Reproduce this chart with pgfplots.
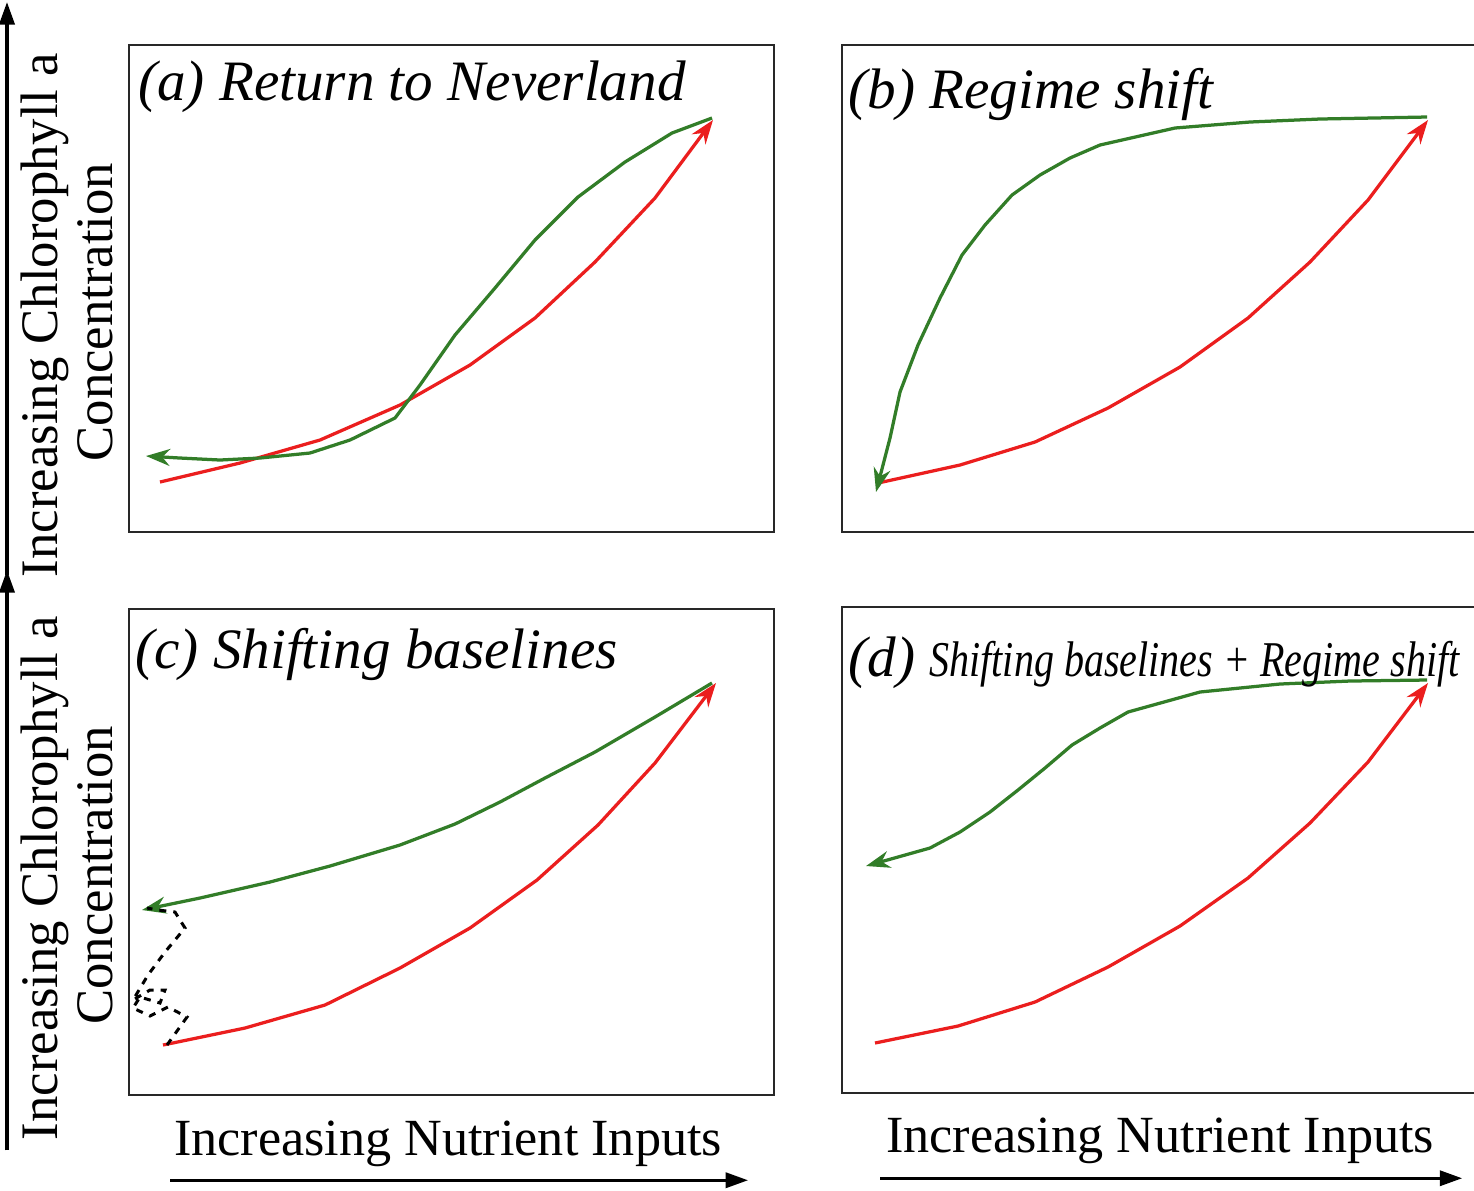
\documentclass[border=0pt]{standalone}
\usepackage{fontspec}
\setmainfont{Liberation Serif}
\usepackage{pgfplots}
\pgfplotsset{compat=1.18}
\usetikzlibrary{arrows.meta}
\definecolor{cred}{RGB}{235,30,30}
\definecolor{cgreen}{RGB}{50,125,40}
\definecolor{cbox}{RGB}{40,40,40}
\pgfplotsset{
  panel/.style={scale only axis, width=12.90cm, anchor=north west,
    y dir=reverse, axis line style={cbox, line width=0.045cm},
    xtick=\empty, ytick=\empty, clip=false},
  redc/.style={cred, line width=0.065cm, sharp plot, no markers,
    -{Stealth[length=0.48cm,width=0.34cm]}},
  greenc/.style={cgreen, line width=0.065cm, sharp plot, no markers,
    -{Stealth[length=0.48cm,width=0.34cm]}},
}
\begin{document}
\begin{tikzpicture}
\clip (0,0) rectangle (29.48cm,-23.8cm);
\useasboundingbox (0,0) rectangle (29.48cm,-23.8cm);
% (a)
\begin{axis}[panel, at={(2.58cm,-0.90cm)}, height=9.74cm,
  xmin=129, xmax=774, ymin=45, ymax=532]
\addplot[redc] coordinates {(160,482) (240,463) (320,440) (400,405) (470,365) (535,318) (595,262) (655,198) (713,120)};
\addplot[greenc] coordinates {(712,118) (672,133) (625,162) (578,197) (535,240) (495,288) (455,335) (420,385) (395,418) (350,440) (310,453) (260,458) (220,460) (180,458) (146,456)};
\end{axis}
% (b)
\begin{axis}[panel, at={(16.84cm,-0.90cm)}, height=9.74cm,
  xmin=842, xmax=1487, ymin=45, ymax=532]
\addplot[redc] coordinates {(878,483) (960,465) (1035,442) (1108,408) (1180,367) (1248,318) (1310,262) (1368,200) (1428,120)};
\addplot[greenc] coordinates {(1427,117) (1320,119) (1250,122) (1175,128) (1100,145) (1070,158) (1040,175) (1012,195) (985,225) (962,255) (940,298) (918,345) (900,392) (890,438) (876,492)};
\end{axis}
% (c)
\begin{axis}[panel, at={(2.58cm,-12.18cm)}, height=9.72cm,
  xmin=129, xmax=774, ymin=609, ymax=1095]
\addplot[redc] coordinates {(163,1045) (245,1028) (325,1005) (400,968) (470,928) (537,880) (598,825) (655,763) (716,683)};
\addplot[greenc] coordinates {(712,683) (655,717) (595,752) (545,778) (500,802) (455,824) (400,845) (330,866) (270,882) (200,898) (142,910)};
\addplot[black, line width=0.06cm, dash pattern=on 0.14cm off 0.14cm, sharp plot, no markers] coordinates {(167,1045) (187,1017) (168,1007) (150,1016) (133,1008) (140,997) (160,1003) (165,990) (150,990) (133,1000) (148,975) (165,952) (185,928) (175,912) (158,910) (147,908)};
\end{axis}
% (d)
\begin{axis}[panel, at={(16.84cm,-12.14cm)}, height=9.72cm,
  xmin=842, xmax=1487, ymin=607, ymax=1093]
\addplot[redc] coordinates {(875,1043) (958,1026) (1035,1002) (1108,967) (1180,926) (1248,878) (1310,823) (1368,762) (1428,683)};
\addplot[greenc] coordinates {(1427,680) (1350,681) (1280,684) (1200,692) (1128,712) (1100,728) (1072,745) (1045,768) (1018,790) (990,812) (960,832) (930,848) (866,866)};
\end{axis}
\begin{scope}[x=0.02cm, y=-0.02cm]
% titles
\node[anchor=base west, inner sep=0] at (138,100) {\fontsize{32.5}{36}\selectfont\itshape (a) Return to Neverland};
\node[anchor=base west, inner sep=0] at (848,108) {\fontsize{32.5}{36}\selectfont\itshape (b) Regime shift};
\node[anchor=base west, inner sep=0] at (135,668) {\fontsize{32.5}{36}\selectfont\itshape (c) Shifting baselines};
\node[anchor=base west, inner sep=0] at (848,676) {\fontsize{32.5}{36}\selectfont\itshape (d) \scalebox{0.80}[1]{\fontsize{28.5}{32}\selectfont Shifting baselines + Regime shift}};
% y labels
\node[rotate=90, inner sep=0] at (45,315) {\fontsize{30}{33}\selectfont Increasing Chlorophyll a};
\node[rotate=90, inner sep=0] at (95,312) {\fontsize{30}{33}\selectfont Concentration};
\node[rotate=90, inner sep=0] at (45,878) {\fontsize{30}{33}\selectfont Increasing Chlorophyll a};
\node[rotate=90, inner sep=0] at (95,875) {\fontsize{30}{33}\selectfont Concentration};
% x labels
\node[anchor=base, inner sep=0] at (448,1155) {\fontsize{29.7}{33}\selectfont Increasing Nutrient Inputs};
\node[anchor=base, inner sep=0] at (1160,1152) {\fontsize{29.7}{33}\selectfont Increasing Nutrient Inputs};
% arrows
\draw[line width=0.07cm, -{Triangle[length=0.45cm,width=0.3cm]}] (170,1180) -- (748,1180);
\draw[line width=0.07cm, -{Triangle[length=0.45cm,width=0.3cm]}] (880,1178) -- (1462,1178);
\draw[line width=0.07cm, -{Triangle[length=0.45cm,width=0.3cm]}] (7,575) -- (7,2);
\draw[line width=0.07cm, -{Triangle[length=0.45cm,width=0.3cm]}] (7,1150) -- (7,570);
\end{scope}
\end{tikzpicture}
\end{document}
